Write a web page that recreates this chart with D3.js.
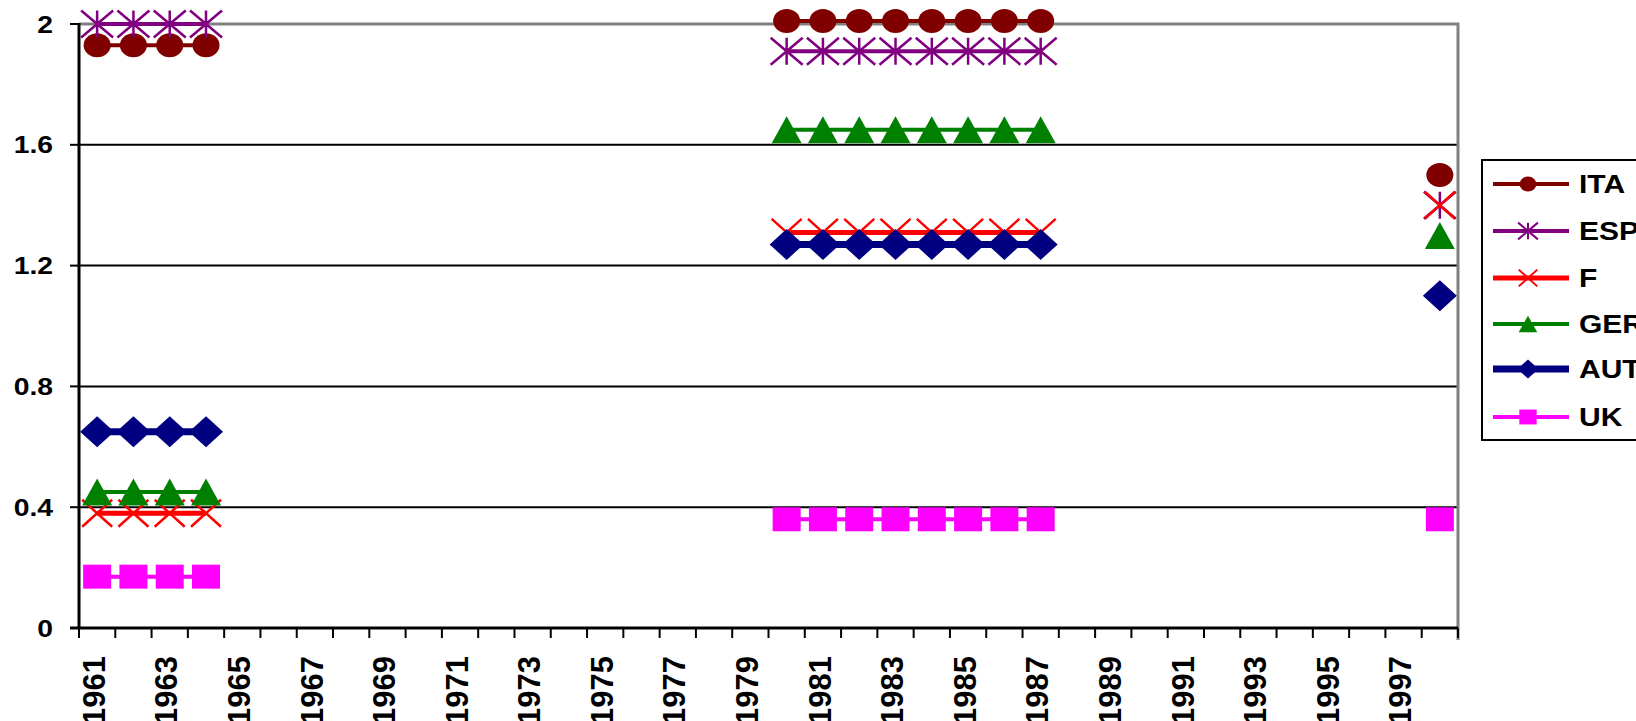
<!DOCTYPE html>
<html>
<head>
<meta charset="utf-8">
<script src="https://cdn.jsdelivr.net/npm/d3@7/dist/d3.min.js"></script>
<style>
  html, body { margin: 0; padding: 0; background: #fff; }
  svg { display: block; font-family: "Liberation Sans", Arial, sans-serif; font-weight: bold; }
</style>
</head>
<body>
<svg id="chart" width="1636" height="721"></svg>
<script>
// Category axis: one band per year
const years = [1961, 1962, 1963, 1964, 1965, 1966, 1967, 1968, 1969, 1970,
               1971, 1972, 1973, 1974, 1975, 1976, 1977, 1978, 1979, 1980,
               1981, 1982, 1983, 1984, 1985, 1986, 1987, 1988, 1989, 1990,
               1991, 1992, 1993, 1994, 1995, 1996, 1997, 1998];
const yearLabels = [1961, 1963, 1965, 1967, 1969, 1971, 1973, 1975, 1977, 1979,
                    1981, 1983, 1985, 1987, 1989, 1991, 1993, 1995, 1997];
const yTicks = [0, 0.4, 0.8, 1.2, 1.6, 2];

// Years that carry observations
const obsYears = [1961, 1962, 1963, 1964, 1980, 1981, 1982, 1983, 1984, 1985, 1986, 1987, 1998];

// Series values, aligned with obsYears
const seriesNames = ["ITA", "ESP", "F", "GER", "AUT", "UK"];
const ITA = [1.93, 1.93, 1.93, 1.93, 2.01, 2.01, 2.01, 2.01, 2.01, 2.01, 2.01, 2.01, 1.5];
const ESP = [2.0, 2.0, 2.0, 2.0, 1.91, 1.91, 1.91, 1.91, 1.91, 1.91, 1.91, 1.91, 1.4];
const F   = [0.38, 0.38, 0.38, 0.38, 1.31, 1.31, 1.31, 1.31, 1.31, 1.31, 1.31, 1.31, 1.4];
const GER = [0.45, 0.45, 0.45, 0.45, 1.65, 1.65, 1.65, 1.65, 1.65, 1.65, 1.65, 1.65, 1.3];
const AUT = [0.65, 0.65, 0.65, 0.65, 1.27, 1.27, 1.27, 1.27, 1.27, 1.27, 1.27, 1.27, 1.1];
const UK  = [0.17, 0.17, 0.17, 0.17, 0.36, 0.36, 0.36, 0.36, 0.36, 0.36, 0.36, 0.36, 0.36];
const seriesValues = [ITA, ESP, F, GER, AUT, UK];

// Drawing styles per series
const styles = {
  ITA: { color: "#800000", width: 4, marker: "circle" },
  ESP: { color: "#800080", width: 4, marker: "star" },
  F:   { color: "#FF0000", width: 5, marker: "cross" },
  GER: { color: "#008000", width: 4, marker: "triangle" },
  AUT: { color: "#000080", width: 7, marker: "diamond" },
  UK:  { color: "#FF00FF", width: 4, marker: "square" }
};

const svg = d3.select("#chart");
const plot = { left: 79, right: 1458, top: 24, bottom: 628 };

const x = d3.scaleBand().domain(years).range([plot.left, plot.right]).padding(0);
const y = d3.scaleLinear().domain([0, 2]).range([plot.bottom, plot.top]);

// Horizontal gridlines
svg.append("g")
  .selectAll("line")
  .data(yTicks.filter(t => t > 0 && t < 2))
  .join("line")
  .attr("x1", plot.left).attr("x2", plot.right)
  .attr("y1", d => y(d)).attr("y2", d => y(d))
  .attr("stroke", "#000").attr("stroke-width", 2);

// Plot frame: grey top and right edges
svg.append("path")
  .attr("d", `M${plot.left},${y(2)}H${plot.right}V${plot.bottom + 12}`)
  .attr("fill", "none").attr("stroke", "#808080").attr("stroke-width", 3);

// Value axis
const yAxis = svg.append("g");
yAxis.append("line")
  .attr("x1", plot.left).attr("x2", plot.left)
  .attr("y1", y(2) - 1).attr("y2", plot.bottom)
  .attr("stroke", "#000").attr("stroke-width", 3);
yAxis.selectAll("line.tick")
  .data(yTicks).join("line").attr("class", "tick")
  .attr("x1", plot.left - 9).attr("x2", plot.left)
  .attr("y1", d => y(d)).attr("y2", d => y(d))
  .attr("stroke", "#000").attr("stroke-width", 2);
yAxis.selectAll("text")
  .data(yTicks).join("text")
  .attr("transform", d => `translate(53,${y(d)}) scale(1.18,1)`)
  .attr("text-anchor", "end")
  .attr("dy", "0.36em")
  .attr("font-size", 24)
  .attr("fill", "#000")
  .text(d => d3.format("~g")(d));

// Category axis
const xAxis = svg.append("g");
xAxis.append("line")
  .attr("x1", plot.left - 9).attr("x2", plot.right)
  .attr("y1", plot.bottom).attr("y2", plot.bottom)
  .attr("stroke", "#000").attr("stroke-width", 3);
const boundaries = years.map(d => x(d)).concat([x(years[years.length - 1]) + x.bandwidth()]);
xAxis.selectAll("line.tick")
  .data(boundaries).join("line").attr("class", "tick")
  .attr("x1", d => d).attr("x2", d => d)
  .attr("y1", plot.bottom).attr("y2", plot.bottom + 10)
  .attr("stroke", "#000").attr("stroke-width", 2);
xAxis.selectAll("text")
  .data(yearLabels).join("text")
  .attr("transform", d => `translate(${x(d) + x.bandwidth() / 2 - 3.5},656) rotate(-90)`)
  .attr("text-anchor", "end")
  .attr("dy", "0.36em")
  .attr("font-size", 31)
  .attr("fill", "#000")
  .text(d => d);

// Marker shapes, centred on (0,0); s scales the size
function markerPath(type, s) {
  switch (type) {
    case "circle": {
      const rx = 13.5 * s, ry = 12 * s;
      return `M${-rx},0A${rx},${ry} 0 1,0 ${rx},0A${rx},${ry} 0 1,0 ${-rx},0Z`;
    }
    case "square": {
      const w = 14 * s, h = 12 * s;
      return `M${-w},${-h}H${w}V${h}H${-w}Z`;
    }
    case "triangle": {
      const w = 15 * s, h = 13.5 * s;
      return `M0,${-h}L${w},${h}H${-w}Z`;
    }
    case "diamond": {
      const w = 17 * s, h = 15.5 * s;
      return `M0,${-h}L${w},0L0,${h}L${-w},0Z`;
    }
    case "cross": {
      const w = 15 * s, h = 13.5 * s;
      return `M${-w},${-h}L${w},${h}M${w},${-h}L${-w},${h}`;
    }
    case "star": {
      const w = 16 * s, h = 13.5 * s;
      return `M${-w},${-h}L${w},${h}M${w},${-h}L${-w},${h}M0,${-h}V${h}`;
    }
  }
}
const isStroked = t => t === "cross" || t === "star";

function drawMarker(g, type, color, s) {
  const p = g.append("path").attr("d", markerPath(type, s));
  if (isStroked(type)) {
    p.attr("fill", "none").attr("stroke", color).attr("stroke-width", 2.5 * Math.max(s, 0.8));
  } else {
    p.attr("fill", color);
  }
  return p;
}

// Series lines and markers
const line = d3.line()
  .defined(d => d.value != null)
  .x(d => x(d.year) + x.bandwidth() / 2)
  .y(d => y(d.value));

seriesNames.forEach((name, i) => {
  const st = styles[name];
  const vals = seriesValues[i];
  const lookup = new Map(obsYears.map((yr, j) => [yr, vals[j]]));
  const pts = years.map(yr => ({ year: yr, value: lookup.has(yr) ? lookup.get(yr) : null }));
  const g = svg.append("g").attr("class", "series-" + name);
  g.append("path")
    .attr("d", line(pts))
    .attr("fill", "none")
    .attr("stroke", st.color)
    .attr("stroke-width", st.width);
  obsYears.forEach((yr, j) => {
    const mg = g.append("g")
      .attr("transform", `translate(${x(yr) + x.bandwidth() / 2},${y(vals[j])})`);
    drawMarker(mg, st.marker, st.color, 1);
  });
});

// Legend
const legend = svg.append("g");
legend.append("rect")
  .attr("x", 1482).attr("y", 160)
  .attr("width", 200).attr("height", 280)
  .attr("fill", "#fff").attr("stroke", "#000").attr("stroke-width", 2);
const legendY = [184, 231, 278, 324, 369, 417];
seriesNames.forEach((name, i) => {
  const st = styles[name];
  const ly = legendY[i];
  legend.append("line")
    .attr("x1", 1493).attr("x2", 1569)
    .attr("y1", ly).attr("y2", ly)
    .attr("stroke", st.color).attr("stroke-width", st.width);
  const mg = legend.append("g").attr("transform", `translate(1528,${ly})`);
  drawMarker(mg, st.marker, st.color, 0.62);
  legend.append("text")
    .attr("transform", `translate(1579,${ly}) scale(1.2,1)`)
    .attr("dy", "0.36em")
    .attr("font-size", 25)
    .attr("fill", "#000")
    .text(name);
});
</script>
</body>
</html>
